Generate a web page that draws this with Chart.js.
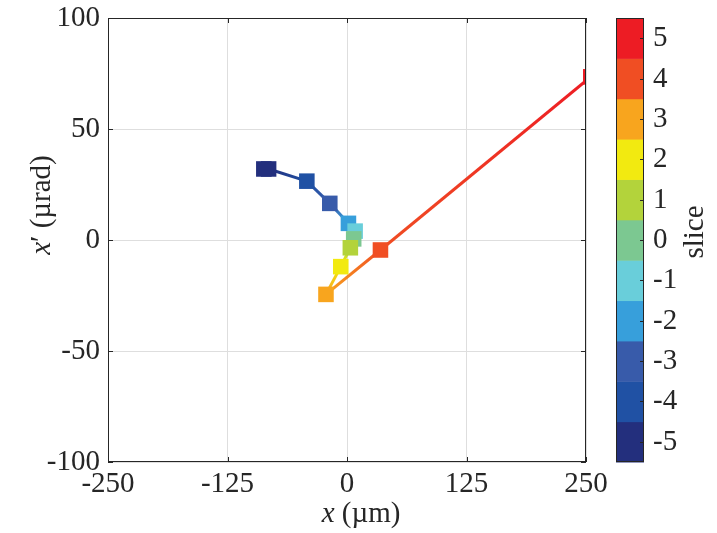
<!DOCTYPE html>
<html>
<head>
<meta charset="utf-8">
<script src="https://cdn.jsdelivr.net/npm/chart.js@4.4.0/dist/chart.umd.min.js"></script>
<style>
  html, body { margin: 0; padding: 0; background: #fff; }
  #wrap { width: 717px; height: 533px; }
</style>
</head>
<body>
<div id="wrap"><canvas id="phase"></canvas></div>
<script>
// colorbar levels
const slices = [-5, -4, -3, -2, -1, 0, 1, 2, 3, 4, 5];
const sliceColors = ['#232F7D', '#2051A4', '#385BAA', '#379FDB', '#69CEDA', '#7CC891',
                     '#B3D33B', '#F2EA10', '#F8A51E', '#F04E23', '#ED1C24'];
// slice centroids in trace space (first slice shows two overlapping marks)
const pointSlice = [-5, -5, -4, -3, -2, -1, 0, 1, 2, 3, 4, 5];
const posX = [-87, -82, -42, -18, 1.5, 8.5, 7, 3.5, -6.5, -22, 35, 255];
const angX = [32, 32, 26.5, 16.5, 7.5, 4, 0.5, -3.5, -12, -24.5, -4.5, 73.5];
const xTicks = [-250, -125, 0, 125, 250];
const yTicks = [-100, -50, 0, 50, 100];

const FONT = '"Liberation Serif", serif';
const FS = 29;
const INK = '#262626';

const colorOf = s => sliceColors[slices.indexOf(s)];

// box around plot + inward ticks, like matlab
const boxPlugin = {
  id: 'box',
  afterDatasetsDraw(chart) {
    const { ctx, chartArea: ca, scales } = chart;
    ctx.save();
    ctx.strokeStyle = INK;
    ctx.lineWidth = 1;
    ctx.strokeRect(ca.left + 0.5, ca.top + 0.5, ca.right - ca.left - 1, ca.bottom - ca.top - 1);
    ctx.beginPath();
    xTicks.forEach(v => {
      const px = Math.round(scales.x.getPixelForValue(v)) + 0.5;
      ctx.moveTo(px, ca.bottom); ctx.lineTo(px, ca.bottom - 5);
      ctx.moveTo(px, ca.top); ctx.lineTo(px, ca.top + 5);
    });
    yTicks.forEach(v => {
      const py = Math.round(scales.y.getPixelForValue(v)) + 0.5;
      ctx.moveTo(ca.left, py); ctx.lineTo(ca.left + 5, py);
      ctx.moveTo(ca.right, py); ctx.lineTo(ca.right - 5, py);
    });
    ctx.stroke();
    ctx.restore();
  }
};

// axis titles with italic x
const titlePlugin = {
  id: 'titles',
  afterDraw(chart) {
    const ctx = chart.ctx;
    const ca = chart.chartArea;
    function mixed(parts, cx, cy, rot) {
      ctx.save();
      ctx.translate(cx, cy);
      ctx.rotate(rot);
      ctx.fillStyle = INK;
      ctx.textBaseline = 'middle';
      let total = 0;
      parts.forEach(p => { ctx.font = p.f; p.w = ctx.measureText(p.t).width; total += p.w; });
      let x = -total / 2;
      parts.forEach(p => { ctx.font = p.f; ctx.fillText(p.t, x, 0); x += p.w; });
      ctx.restore();
    }
    const it = 'italic ' + FS + 'px ' + FONT;
    const rg = FS + 'px ' + FONT;
    mixed([{ t: 'x', f: it }, { t: ' (µm)', f: rg }], (ca.left + ca.right) / 2 + 14, 514, 0);
    mixed([{ t: 'x', f: it }, { t: '′ (µrad)', f: rg }], 42, 205, -Math.PI / 2);
  }
};

// discrete colorbar for slice index
const colorbarPlugin = {
  id: 'colorbar',
  afterDraw(chart) {
    const { ctx, chartArea: ca } = chart;
    const left = ca.right + 30, w = 28;
    const n = slices.length;
    const h = (ca.bottom - ca.top) / n;
    ctx.save();
    slices.forEach((s, i) => {
      ctx.fillStyle = sliceColors[i];
      ctx.fillRect(left, ca.bottom - (i + 1) * h, w, h + 0.5);
    });
    ctx.strokeStyle = INK;
    ctx.lineWidth = 1;
    ctx.strokeRect(left + 0.5, ca.top + 0.5, w - 1, ca.bottom - ca.top - 1);
    ctx.beginPath();
    ctx.fillStyle = INK;
    ctx.font = FS + 'px ' + FONT;
    ctx.textBaseline = 'middle';
    ctx.textAlign = 'left';
    slices.forEach((s, i) => {
      const cy = Math.round(ca.bottom - (i + 0.5) * h) + 0.5;
      ctx.moveTo(left + w - 4, cy); ctx.lineTo(left + w, cy);
      ctx.fillText(String(s), left + w + 9, cy);
    });
    ctx.stroke();
    ctx.translate(695, 232);
    ctx.rotate(-Math.PI / 2);
    ctx.textAlign = 'center';
    ctx.fillText('slice', 0, 0);
    ctx.restore();
  }
};

const ctx = document.getElementById('phase').getContext('2d');
const ptColors = pointSlice.map(colorOf);
new Chart(ctx, {
  type: 'line',
  data: {
    datasets: [{
      data: posX.map((x, i) => ({ x: x, y: angX[i] })),
      borderWidth: 3,
      tension: 0,
      clip: 0,
      pointStyle: 'rect',
      pointRadius: 11,
      pointBorderWidth: 0,
      pointBackgroundColor: ptColors,
      pointBorderColor: ptColors,
      segment: {
        borderColor: c => {
          const a = c.p0, b = c.p1;
          if (!isFinite(a.x) || !isFinite(b.x)) return ptColors[c.p1DataIndex];
          const g = c.chart.ctx.createLinearGradient(a.x, a.y, b.x, b.y);
          g.addColorStop(0, ptColors[c.p0DataIndex]);
          g.addColorStop(1, ptColors[c.p1DataIndex]);
          return g;
        }
      }
    }]
  },
  options: {
    responsive: true,
    maintainAspectRatio: false,
    animation: false,
    events: [],
    layout: { padding: { top: 18, right: 131, bottom: 0, left: 0 } },
    plugins: { legend: { display: false }, tooltip: { enabled: false } },
    scales: {
      x: {
        type: 'linear',
        min: -250, max: 250,
        afterBuildTicks: s => { s.ticks = xTicks.map(v => ({ value: v })); },
        afterFit: s => { s.height = 71; s.paddingLeft = 0; s.paddingRight = 0; },
        grid: { color: '#dedede', drawTicks: false },
        border: { display: false },
        ticks: { color: INK, padding: 5, maxRotation: 0, font: { family: FONT, size: FS } }
      },
      y: {
        min: -100, max: 100,
        afterBuildTicks: s => { s.ticks = yTicks.map(v => ({ value: v })); },
        afterFit: s => { s.width = 108; s.paddingTop = 0; s.paddingBottom = 0; },
        grid: { color: '#dedede', drawTicks: false },
        border: { display: false },
        ticks: { color: INK, padding: 8, font: { family: FONT, size: FS } }
      }
    }
  },
  plugins: [boxPlugin, titlePlugin, colorbarPlugin]
});
</script>
</body>
</html>
